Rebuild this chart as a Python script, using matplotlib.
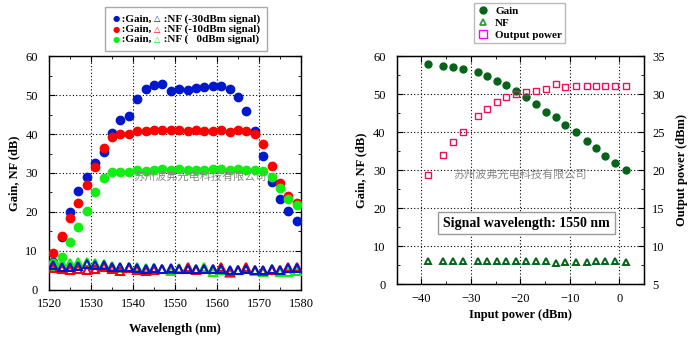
import matplotlib
matplotlib.use("Agg")
import matplotlib.pyplot as plt
from matplotlib.ticker import MultipleLocator
from matplotlib.offsetbox import TextArea, HPacker, VPacker, AnchoredOffsetbox
from matplotlib.lines import Line2D

# ---- left plot data: gain / NF vs wavelength ----
wl = [1521, 1523, 1525, 1527, 1529, 1531, 1533, 1535, 1537, 1539,
      1541, 1543, 1545, 1547, 1549, 1551, 1553, 1555, 1557, 1559,
      1561, 1563, 1565, 1567, 1569, 1571, 1573, 1575, 1577, 1579]

gain_m30 = [7.3, 13.7, 19.9, 25.5, 28.9, 32.6, 35.5, 40.3, 43.6, 44.5,
            49.1, 51.5, 52.6, 52.7, 51.0, 51.5, 51.3, 51.8, 52.0, 52.3,
            52.4, 51.5, 49.4, 46.0, 40.8, 34.4, 27.8, 23.3, 20.3, 17.8]
gain_m10 = [9.6, 13.9, 18.4, 22.2, 26.9, 31.6, 36.5, 39.2, 39.9, 39.9,
            40.8, 40.8, 41.0, 41.0, 41.0, 41.0, 40.8, 41.0, 40.8, 40.8,
            41.0, 40.4, 41.0, 40.8, 40.0, 37.4, 31.9, 27.5, 24.1, 22.3]
gain_0 = [6.8, 8.5, 12.2, 16.1, 20.2, 25.2, 28.8, 30.3, 30.3, 30.3,
          30.7, 30.5, 30.7, 30.9, 30.7, 30.9, 30.7, 30.7, 30.7, 30.9,
          30.9, 30.7, 30.9, 30.7, 30.7, 30.4, 29.1, 26.1, 23.4, 21.7]

nf_m30 = [6.4, 6.0, 6.0, 6.1, 6.6, 6.4, 6.4, 5.8, 5.8, 6.0,
          5.6, 5.5, 5.6, 5.3, 5.6, 5.5, 5.5, 5.4, 5.5, 5.4,
          5.4, 5.0, 5.2, 5.4, 5.2, 5.0, 5.4, 5.2, 5.6, 5.6]
nf_m10 = [5.6, 5.3, 5.1, 5.4, 5.1, 5.4, 6.0, 5.3, 4.9, 5.6,
          5.1, 4.9, 5.1, 5.3, 5.3, 5.3, 5.9, 5.0, 5.4, 5.5,
          5.9, 4.6, 5.0, 5.9, 5.0, 4.8, 5.0, 5.0, 5.9, 5.8]
nf_0 = [6.2, 7.0, 7.0, 7.3, 7.3, 7.0, 6.6, 6.2, 5.6, 6.0,
        6.0, 5.6, 5.6, 5.3, 4.8, 5.6, 5.3, 5.4, 5.8, 4.7,
        5.2, 4.3, 5.2, 5.4, 4.9, 4.5, 5.5, 4.6, 4.6, 4.9]

# ---- right plot data: vs input power at 1550 nm ----
pin = [-38.7, -35.7, -33.6, -31.6, -28.6, -26.7, -24.8, -22.8, -20.8, -18.8,
       -16.8, -14.8, -12.7, -10.9, -8.8, -6.6, -4.8, -2.8, -0.8, 1.3]
gain_p = [57.9, 57.4, 57.1, 56.7, 56.0, 54.8, 53.6, 52.4, 50.9, 49.4,
          47.4, 45.4, 44.1, 41.8, 40.0, 37.8, 35.9, 33.8, 31.8, 30.0]
nf_p = [6.2, 6.2, 6.1, 6.2, 6.1, 6.2, 6.2, 6.1, 6.1, 6.1,
        6.2, 6.1, 5.7, 5.9, 5.9, 5.9, 6.1, 6.1, 6.2, 5.9]
pout = [19.4, 22.0, 23.7, 25.1, 27.2, 28.1, 29.0, 29.7, 30.0, 30.3,
        30.4, 30.7, 31.3, 30.9, 31.1, 31.1, 31.1, 31.1, 31.1, 31.1]

blue = "#0018cc"
red = "#ff0000"
green = "#11ee11"
dkgreen = "#05641a"
pink = "#e8105f"

serif = "Liberation Serif"
plt.rcParams["font.family"] = serif
plt.rcParams["font.size"] = 9
bold = dict(family=serif, weight="bold", size=9)
legfont = dict(family=serif, weight="bold", size=8)
wm = "苏州波弗光电科技有限公司"

fig = plt.figure(figsize=(6.95, 3.54), dpi=100)
ax1 = fig.add_axes([0.0705, 0.1808, 0.3626, 0.661])
ax2 = fig.add_axes([0.5708, 0.1969, 0.3558, 0.644])


def style(ax):
    ax.tick_params(which="both", direction="in", top=True, right=True,
                   labelsize=9)
    ax.tick_params(axis="x", pad=6)
    ax.tick_params(axis="y", pad=8)
    ax.tick_params(which="major", length=4)
    ax.tick_params(which="minor", length=2)
    ax.grid(True, which="major", linestyle=(0, (1, 2)), color="black", linewidth=0.8)
    for s in ax.spines.values():
        s.set_linewidth(1.0)


# left
for g, c in [(gain_m30, blue), (gain_m10, red), (gain_0, green)]:
    ax1.plot(wl, g, "o", color=c, ms=6, mec=c, zorder=3)
for n, c in [(nf_0, green), (nf_m10, red), (nf_m30, blue)]:
    ax1.plot(wl, n, "^", mfc="none", mec=c, ms=6, mew=1.5, zorder=4)
ax1.set_xlim(1520, 1580)
ax1.set_ylim(0, 60)
ax1.xaxis.set_major_locator(MultipleLocator(10))
ax1.xaxis.set_minor_locator(MultipleLocator(5))
ax1.yaxis.set_major_locator(MultipleLocator(10))
ax1.yaxis.set_minor_locator(MultipleLocator(5))
style(ax1)
ax1.set_xlabel("Wavelength (nm)", fontdict=bold, labelpad=9)
ax1.set_ylabel("Gain, NF (dB)", fontdict=bold, labelpad=4)
ax1.text(0.6, 0.485, wm, transform=ax1.transAxes, ha="center", va="center",
         family=["Noto Sans CJK SC", "DejaVu Sans"], fontsize=8, color="#888888", zorder=5)

rows = []
for c, t in [(blue, "-30dBm signal)"), (red, "-10dBm signal)"), (green, "   0dBm signal)")]:
    rows.append(HPacker(children=[
        TextArea("●", textprops=dict(color=c, size=6, family="DejaVu Sans")),
        TextArea(" :Gain, ", textprops=dict(color="black", **legfont)),
        TextArea("△", textprops=dict(color=c, size=6, family="DejaVu Sans")),
        TextArea(" :NF (" + t, textprops=dict(color="black", **legfont)),
    ], pad=0, sep=0, align="baseline"))
box = VPacker(children=rows, pad=1.5, sep=0.5, align="left")
anc = AnchoredOffsetbox(loc="upper left", child=box, frameon=True, borderpad=0,
                        bbox_to_anchor=(105 / 695, 1 - 7 / 354),
                        bbox_transform=fig.transFigure)
anc.patch.set_edgecolor("#aaaaaa")
anc.patch.set_linewidth(1.0)
fig.add_artist(anc)

# right
ax2.plot(pin, gain_p, "o", color=dkgreen, ms=5, zorder=3)
ax2.plot(pin, nf_p, "^", mfc="none", mec=dkgreen, ms=5, mew=1.4, zorder=3)
ax2.set_xlim(-45, 5)
ax2.set_ylim(0, 60)
ax2.xaxis.set_major_locator(MultipleLocator(10))
ax2.xaxis.set_minor_locator(MultipleLocator(5))
ax2.yaxis.set_major_locator(MultipleLocator(10))
ax2.yaxis.set_minor_locator(MultipleLocator(5))
style(ax2)
ax2.tick_params(right=False, which="both")
ax3 = ax2.twinx()
ax3.plot(pin, pout, "s", mfc="none", mec=pink, ms=5, mew=1.0, zorder=3)
ax3.set_ylim(5, 35)
ax3.yaxis.set_major_locator(MultipleLocator(5))
ax3.yaxis.set_minor_locator(MultipleLocator(2.5))
ax3.tick_params(which="both", direction="in", labelsize=9, pad=6)
ax3.tick_params(which="major", length=4)
ax3.tick_params(which="minor", length=2)
ax2.set_xlabel("Input power (dBm)", fontdict=bold, labelpad=3)
ax2.set_ylabel("Gain, NF (dB)", fontdict=bold, labelpad=4)
ax3.set_ylabel("Output power (dBm)", fontdict=bold, labelpad=8)
ax2.text(-18.8, 16.1, "Signal wavelength: 1550 nm", ha="center", va="center",
         fontdict=dict(family=serif, weight="bold", size=10),
         bbox=dict(boxstyle="square,pad=0.35", fc="white", ec="#999999", lw=1.0), zorder=6)
ax2.text(0.5, 0.48, wm, transform=ax2.transAxes, ha="center", va="center",
         family=["Noto Sans CJK SC", "DejaVu Sans"], fontsize=8, color="#888888", zorder=5)

handles = [Line2D([], [], ls="none", marker="o", color=dkgreen, ms=5),
           Line2D([], [], ls="none", marker="^", mfc="none", mec="#2e9e3e", ms=5, mew=1.3),
           Line2D([], [], ls="none", marker="s", mfc="none", mec="#ff00ff", ms=6, mew=1.0)]
leg = fig.legend(handles, ["Gain", "NF", "Output power"], loc="upper left",
                 bbox_to_anchor=(474 / 695, 1 - 3 / 354), prop=legfont, frameon=True,
                 fancybox=False, borderpad=0.3, handlelength=1.0, handletextpad=0.6,
                 labelspacing=0.2, borderaxespad=0)
leg.get_frame().set_edgecolor("#aaaaaa")
leg.get_frame().set_linewidth(1.0)

fig.savefig("out.png", dpi=100)
